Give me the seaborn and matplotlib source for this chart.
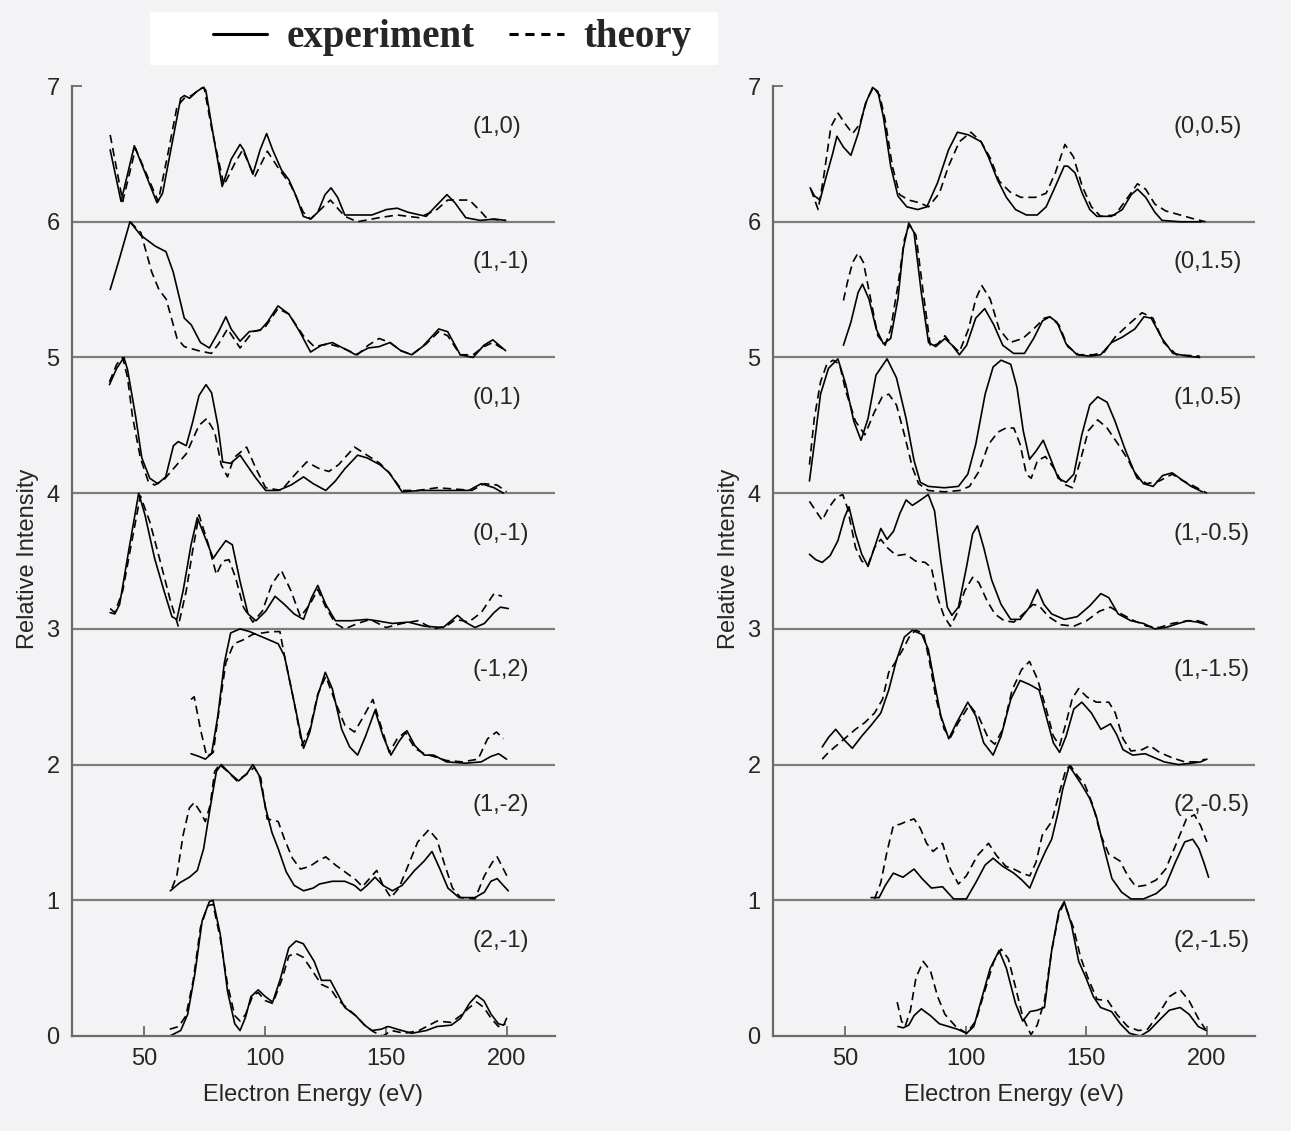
import numpy as np
import pandas as pd
import matplotlib
matplotlib.use("Agg")
import matplotlib.pyplot as plt
import seaborn as sns
from matplotlib.lines import Line2D
from matplotlib.patches import Rectangle

# ---- left panel beams, top to bottom
left_labels = ["(1,0)", "(1,-1)", "(0,1)", "(0,-1)", "(-1,2)", "(1,-2)", "(2,-1)"]
# ---- right panel beams, top to bottom
right_labels = ["(0,0.5)", "(0,1.5)", "(1,0.5)", "(1,-0.5)", "(1,-1.5)", "(2,-0.5)", "(2,-1.5)"]

# (1,0)
e_10_exp = [35.8, 40.3, 45.8, 55.2, 57.5, 62.0, 65.0, 66.5, 68.7, 71.7, 74.2, 75.4, 78.4, 82.2, 85.9, 89.6, 91.1, 94.9, 97.9, 100.6, 103.1, 106.8, 109.8, 112.8, 115.8, 118.8, 121.8, 124.8, 127.3, 130.0, 133.0, 138.2, 144.2, 150.2, 154.7, 159.2, 166.7, 170.4, 175.3, 178.6, 183.1, 189.1, 195.1, 199.6]
i_10_exp = [0.53, 0.15, 0.56, 0.14, 0.21, 0.63, 0.91, 0.93, 0.91, 0.96, 0.99, 0.97, 0.65, 0.26, 0.46, 0.57, 0.53, 0.35, 0.53, 0.65, 0.53, 0.38, 0.31, 0.19, 0.04, 0.02, 0.07, 0.20, 0.25, 0.18, 0.05, 0.05, 0.05, 0.09, 0.10, 0.07, 0.04, 0.11, 0.20, 0.14, 0.03, 0.01, 0.02, 0.01]
e_10_th = [35.8, 41.0, 46.3, 55.7, 59.7, 63.5, 66.5, 69.4, 73.2, 74.7, 77.7, 82.9, 87.4, 90.7, 95.6, 100.9, 105.3, 110.6, 115.8, 118.8, 127.0, 133.0, 138.2, 147.2, 154.7, 163.7, 171.1, 175.6, 184.6, 189.1, 192.1, 199.6]
i_10_th = [0.64, 0.15, 0.54, 0.15, 0.50, 0.85, 0.91, 0.93, 0.98, 0.99, 0.70, 0.27, 0.43, 0.53, 0.33, 0.52, 0.40, 0.27, 0.07, 0.02, 0.16, 0.04, 0.00, 0.03, 0.05, 0.03, 0.09, 0.16, 0.16, 0.08, 0.02, 0.01]

# (1,-1)
e_1m1_exp = [35.8, 39.5, 44.0, 48.5, 54.5, 58.9, 61.9, 66.5, 69.4, 73.2, 76.9, 80.7, 83.7, 85.9, 89.6, 93.4, 97.9, 100.9, 105.3, 109.8, 114.3, 118.8, 123.3, 127.8, 132.2, 137.5, 142.7, 147.2, 151.7, 156.2, 160.7, 165.2, 171.9, 175.6, 180.8, 186.1, 190.6, 194.3, 199.6]
i_1m1_exp = [0.50, 0.72, 1.00, 0.90, 0.82, 0.78, 0.63, 0.29, 0.24, 0.11, 0.07, 0.19, 0.30, 0.21, 0.12, 0.19, 0.20, 0.26, 0.38, 0.32, 0.19, 0.04, 0.09, 0.11, 0.07, 0.02, 0.07, 0.08, 0.11, 0.05, 0.02, 0.08, 0.21, 0.19, 0.02, 0.00, 0.09, 0.13, 0.05]
e_1m1_th = [44.0, 48.5, 53.0, 56.0, 59.0, 63.5, 66.5, 72.4, 77.7, 80.7, 84.4, 89.6, 94.9, 99.4, 105.3, 109.8, 115.8, 120.3, 126.3, 132.2, 138.2, 142.7, 147.2, 151.7, 156.2, 160.7, 166.7, 171.9, 175.6, 180.8, 186.1, 190.6, 194.3, 199.6]
i_1m1_th = [1.00, 0.92, 0.63, 0.50, 0.43, 0.14, 0.08, 0.05, 0.03, 0.10, 0.21, 0.07, 0.19, 0.21, 0.36, 0.32, 0.16, 0.08, 0.10, 0.07, 0.02, 0.09, 0.14, 0.11, 0.05, 0.02, 0.10, 0.19, 0.16, 0.02, 0.02, 0.08, 0.11, 0.05]

# (0,1)
e_01_exp = [35.5, 38.5, 41.5, 43.0, 46.3, 48.9, 52.2, 55.5, 58.8, 62.0, 64.0, 67.3, 69.9, 72.6, 75.5, 77.8, 80.4, 82.4, 85.7, 89.6, 92.3, 96.2, 100.2, 105.4, 110.7, 115.9, 119.9, 125.1, 129.1, 133.0, 138.3, 142.2, 147.5, 151.4, 156.7, 164.5, 172.4, 179.0, 184.3, 189.5, 194.8, 198.7]
i_01_exp = [0.80, 0.92, 1.00, 0.91, 0.57, 0.26, 0.11, 0.07, 0.12, 0.35, 0.38, 0.35, 0.52, 0.72, 0.80, 0.74, 0.50, 0.23, 0.22, 0.28, 0.21, 0.11, 0.02, 0.02, 0.06, 0.12, 0.07, 0.02, 0.09, 0.18, 0.28, 0.26, 0.21, 0.15, 0.01, 0.02, 0.02, 0.02, 0.02, 0.07, 0.04, 0.00]
e_01_th = [35.5, 38.5, 41.0, 43.0, 45.0, 48.3, 51.5, 54.2, 58.1, 62.0, 67.3, 72.6, 75.8, 79.1, 81.8, 84.4, 87.0, 92.3, 96.2, 100.2, 106.7, 112.0, 117.2, 122.5, 126.4, 130.4, 137.0, 142.2, 147.5, 151.4, 156.7, 163.2, 171.1, 179.0, 185.6, 190.8, 196.1, 200.0]
i_01_th = [0.82, 0.95, 1.00, 0.85, 0.57, 0.26, 0.09, 0.06, 0.10, 0.18, 0.29, 0.50, 0.55, 0.45, 0.21, 0.12, 0.26, 0.34, 0.18, 0.04, 0.02, 0.13, 0.23, 0.18, 0.16, 0.21, 0.34, 0.28, 0.22, 0.15, 0.02, 0.02, 0.04, 0.03, 0.02, 0.07, 0.06, 0.01]

# (0,-1)
e_0m1_exp = [35.8, 37.7, 39.7, 43.7, 47.6, 50.2, 54.2, 58.1, 61.4, 63.4, 66.0, 69.3, 71.9, 75.2, 78.5, 80.4, 83.7, 86.4, 89.6, 92.9, 96.2, 100.2, 104.1, 108.0, 112.0, 115.9, 119.2, 121.8, 125.1, 129.1, 135.6, 142.2, 146.2, 152.7, 159.3, 165.9, 173.7, 179.7, 182.9, 186.9, 190.8, 194.8, 197.4, 200.7]
i_0m1_exp = [0.12, 0.11, 0.18, 0.60, 1.00, 0.84, 0.52, 0.28, 0.09, 0.07, 0.28, 0.62, 0.82, 0.67, 0.52, 0.57, 0.65, 0.62, 0.35, 0.11, 0.06, 0.13, 0.24, 0.18, 0.11, 0.07, 0.23, 0.32, 0.18, 0.06, 0.06, 0.07, 0.06, 0.04, 0.05, 0.02, 0.01, 0.10, 0.05, 0.01, 0.04, 0.12, 0.16, 0.15]
e_0m1_th = [35.8, 37.7, 41.0, 44.5, 48.3, 52.2, 56.8, 60.7, 64.0, 67.3, 69.9, 72.6, 76.5, 79.8, 82.4, 85.0, 87.7, 91.0, 94.9, 98.8, 102.8, 106.7, 110.7, 114.6, 118.5, 121.8, 125.1, 129.1, 133.0, 138.3, 143.5, 150.1, 156.7, 163.2, 169.8, 175.0, 179.0, 184.3, 189.5, 194.8, 198.1]
i_0m1_th = [0.15, 0.12, 0.28, 0.62, 0.98, 0.79, 0.48, 0.21, 0.02, 0.28, 0.57, 0.84, 0.62, 0.40, 0.50, 0.51, 0.38, 0.16, 0.05, 0.13, 0.33, 0.43, 0.28, 0.09, 0.18, 0.29, 0.16, 0.04, 0.00, 0.04, 0.07, 0.01, 0.04, 0.06, 0.00, 0.02, 0.07, 0.05, 0.12, 0.26, 0.24]

# (-1,2)
e_m12_exp = [69.3, 72.6, 75.2, 77.8, 80.4, 83.1, 85.7, 89.6, 93.6, 97.5, 101.5, 105.4, 108.0, 112.0, 115.9, 118.5, 121.8, 124.9, 127.8, 131.7, 135.0, 138.3, 141.6, 145.5, 148.8, 152.1, 155.4, 158.7, 162.0, 165.9, 169.8, 175.1, 182.9, 189.5, 193.5, 196.7, 200.0]
i_m12_exp = [0.08, 0.06, 0.04, 0.08, 0.36, 0.75, 0.97, 1.00, 0.98, 0.95, 0.92, 0.89, 0.80, 0.46, 0.12, 0.24, 0.51, 0.68, 0.56, 0.26, 0.13, 0.07, 0.21, 0.40, 0.21, 0.07, 0.17, 0.25, 0.14, 0.07, 0.07, 0.02, 0.01, 0.02, 0.06, 0.08, 0.04]
e_m12_th = [69.3, 70.6, 73.2, 75.8, 78.5, 81.1, 83.7, 87.0, 91.0, 94.9, 98.8, 102.8, 106.1, 108.0, 112.0, 115.3, 118.5, 121.8, 125.1, 129.1, 133.0, 137.0, 140.9, 144.6, 147.5, 151.4, 154.7, 158.0, 162.0, 165.9, 169.8, 175.1, 181.6, 188.2, 192.1, 195.8, 198.7]
i_m12_th = [0.48, 0.50, 0.26, 0.06, 0.09, 0.43, 0.75, 0.89, 0.92, 0.96, 0.97, 0.98, 0.98, 0.80, 0.46, 0.14, 0.26, 0.52, 0.65, 0.46, 0.29, 0.24, 0.36, 0.48, 0.31, 0.09, 0.19, 0.24, 0.12, 0.08, 0.06, 0.03, 0.02, 0.04, 0.19, 0.24, 0.19]

# (1,-2)
e_1m2_exp = [60.7, 64.7, 68.6, 71.9, 74.5, 77.2, 79.8, 81.8, 85.7, 89.0, 92.3, 94.9, 97.5, 100.2, 102.8, 105.4, 108.7, 112.0, 115.9, 119.9, 122.5, 127.8, 133.0, 137.0, 139.6, 142.2, 145.5, 148.8, 152.7, 156.7, 161.9, 165.9, 169.1, 172.4, 175.7, 180.3, 186.9, 190.8, 193.5, 196.1, 198.1, 200.7]
i_1m2_exp = [0.07, 0.13, 0.17, 0.22, 0.38, 0.68, 0.95, 1.00, 0.93, 0.88, 0.93, 1.00, 0.92, 0.68, 0.50, 0.38, 0.21, 0.11, 0.07, 0.09, 0.12, 0.14, 0.14, 0.11, 0.07, 0.11, 0.17, 0.11, 0.07, 0.11, 0.22, 0.29, 0.36, 0.23, 0.09, 0.02, 0.02, 0.06, 0.14, 0.16, 0.12, 0.07]
e_1m2_th = [61.4, 63.4, 66.0, 68.6, 70.6, 73.2, 75.2, 77.2, 79.1, 81.1, 84.4, 88.3, 92.3, 95.5, 98.2, 100.8, 103.4, 105.4, 108.0, 111.3, 114.6, 118.5, 121.8, 125.1, 129.1, 133.0, 137.6, 140.3, 144.2, 146.2, 148.8, 152.1, 155.4, 159.3, 163.2, 167.8, 171.1, 174.4, 177.6, 180.9, 186.9, 190.8, 194.1, 196.1, 198.7, 200.7]
i_1m2_th = [0.09, 0.18, 0.48, 0.68, 0.72, 0.65, 0.58, 0.70, 0.95, 1.00, 0.95, 0.88, 0.93, 0.98, 0.90, 0.60, 0.59, 0.58, 0.45, 0.31, 0.23, 0.25, 0.29, 0.32, 0.26, 0.21, 0.15, 0.10, 0.18, 0.22, 0.11, 0.02, 0.09, 0.26, 0.43, 0.52, 0.45, 0.26, 0.09, 0.02, 0.01, 0.18, 0.28, 0.32, 0.23, 0.16]

# (2,-1)
e_2m1_exp = [60.5, 65.0, 67.9, 70.9, 73.9, 76.9, 78.4, 81.4, 84.4, 87.4, 89.6, 91.9, 94.1, 97.1, 100.1, 103.1, 106.1, 109.8, 112.8, 115.8, 120.3, 123.3, 127.0, 130.0, 133.0, 137.5, 141.2, 144.2, 148.0, 151.0, 154.7, 160.7, 166.7, 171.2, 177.1, 180.9, 184.6, 187.6, 190.6, 193.6, 196.6, 198.8, 200.0]
i_2m1_exp = [0.00, 0.04, 0.16, 0.46, 0.85, 0.99, 1.00, 0.75, 0.33, 0.09, 0.04, 0.14, 0.29, 0.34, 0.29, 0.25, 0.41, 0.65, 0.70, 0.68, 0.55, 0.41, 0.41, 0.31, 0.21, 0.15, 0.08, 0.04, 0.05, 0.07, 0.05, 0.02, 0.04, 0.07, 0.08, 0.13, 0.24, 0.30, 0.26, 0.16, 0.09, 0.08, 0.13]
e_2m1_th = [60.5, 64.2, 67.2, 70.2, 73.2, 76.2, 78.4, 81.4, 84.4, 87.4, 89.6, 91.9, 94.9, 97.1, 100.1, 103.1, 106.8, 109.8, 112.5, 115.8, 120.3, 123.3, 127.0, 130.0, 133.0, 137.5, 141.2, 145.0, 148.7, 152.4, 157.7, 163.7, 171.2, 177.1, 180.9, 184.6, 187.6, 190.6, 193.6, 196.6, 199.6]
i_2m1_th = [0.05, 0.07, 0.15, 0.41, 0.80, 0.96, 0.97, 0.72, 0.38, 0.15, 0.11, 0.16, 0.30, 0.32, 0.26, 0.24, 0.41, 0.59, 0.61, 0.58, 0.46, 0.38, 0.35, 0.27, 0.22, 0.15, 0.08, 0.03, 0.00, 0.04, 0.02, 0.04, 0.11, 0.10, 0.15, 0.21, 0.25, 0.21, 0.13, 0.07, 0.09]

# (0,0.5)
e_0h_exp = [35.4, 37.2, 39.5, 41.7, 44.7, 46.5, 49.2, 52.3, 55.3, 58.3, 61.3, 63.5, 65.8, 68.8, 71.8, 75.5, 80.0, 83.8, 88.3, 92.8, 96.5, 101.1, 106.3, 109.3, 113.1, 116.8, 120.6, 125.1, 129.6, 133.3, 137.1, 140.8, 142.3, 145.3, 148.3, 151.4, 154.4, 160.4, 164.9, 168.6, 171.2, 174.6, 178.4, 181.4, 188.9, 197.7]
i_0h_exp = [0.25, 0.19, 0.16, 0.31, 0.50, 0.63, 0.55, 0.49, 0.65, 0.87, 0.99, 0.96, 0.77, 0.41, 0.19, 0.11, 0.09, 0.11, 0.29, 0.53, 0.66, 0.64, 0.59, 0.48, 0.31, 0.18, 0.09, 0.05, 0.05, 0.11, 0.26, 0.41, 0.41, 0.36, 0.21, 0.09, 0.04, 0.04, 0.09, 0.20, 0.24, 0.18, 0.07, 0.01, 0.00, 0.00]
e_0h_th = [35.7, 38.7, 41.0, 44.0, 47.0, 50.0, 53.0, 56.0, 59.0, 61.6, 64.3, 66.5, 69.5, 72.5, 76.3, 80.8, 84.5, 89.0, 92.8, 97.3, 102.1, 106.3, 110.1, 113.8, 118.3, 122.8, 128.8, 133.3, 137.1, 141.1, 144.6, 148.3, 152.1, 155.9, 161.9, 166.4, 171.2, 174.6, 178.4, 182.9, 188.9, 194.9, 199.4]
i_0h_th = [0.24, 0.09, 0.33, 0.70, 0.80, 0.72, 0.65, 0.72, 0.90, 0.99, 0.93, 0.75, 0.41, 0.20, 0.16, 0.14, 0.11, 0.21, 0.41, 0.59, 0.66, 0.59, 0.47, 0.30, 0.22, 0.18, 0.18, 0.21, 0.36, 0.57, 0.48, 0.26, 0.11, 0.04, 0.05, 0.16, 0.28, 0.24, 0.13, 0.08, 0.05, 0.02, 0.00]

# (0,1.5)
e_01h_exp = [49.2, 52.3, 55.3, 57.1, 59.8, 62.8, 65.8, 68.8, 71.8, 74.0, 76.3, 78.5, 81.5, 84.5, 87.5, 91.3, 94.3, 97.3, 100.3, 104.1, 107.8, 111.6, 115.3, 119.8, 124.3, 128.1, 131.8, 134.8, 137.8, 141.6, 146.1, 151.4, 155.9, 160.4, 164.9, 170.1, 173.9, 176.9, 181.4, 185.9, 191.9, 197.0]
i_01h_exp = [0.09, 0.26, 0.48, 0.54, 0.43, 0.21, 0.10, 0.14, 0.43, 0.80, 0.99, 0.92, 0.48, 0.11, 0.08, 0.14, 0.09, 0.02, 0.09, 0.29, 0.36, 0.24, 0.09, 0.03, 0.03, 0.14, 0.27, 0.30, 0.26, 0.10, 0.02, 0.01, 0.02, 0.11, 0.15, 0.21, 0.30, 0.29, 0.14, 0.03, 0.01, 0.00]
e_01h_th = [49.2, 50.8, 53.0, 55.3, 57.5, 60.5, 63.5, 66.5, 68.8, 71.8, 74.5, 76.6, 79.3, 82.3, 85.3, 88.3, 91.3, 94.3, 97.3, 101.1, 104.1, 106.6, 110.1, 113.8, 118.3, 123.6, 128.1, 132.6, 134.8, 138.6, 142.3, 146.8, 152.9, 157.4, 161.9, 167.9, 173.1, 177.6, 182.1, 187.4, 197.0]
i_01h_th = [0.42, 0.55, 0.70, 0.77, 0.70, 0.43, 0.16, 0.09, 0.21, 0.53, 0.87, 0.98, 0.90, 0.48, 0.08, 0.10, 0.16, 0.09, 0.04, 0.21, 0.43, 0.53, 0.43, 0.21, 0.11, 0.14, 0.21, 0.29, 0.30, 0.24, 0.08, 0.02, 0.02, 0.04, 0.15, 0.25, 0.33, 0.29, 0.11, 0.02, 0.01]

# (1,0.5)
e_1h_exp = [35.1, 37.1, 39.7, 43.0, 46.9, 50.2, 53.5, 56.5, 59.4, 62.7, 67.3, 71.2, 75.2, 78.5, 81.1, 84.4, 91.0, 96.9, 100.8, 104.1, 108.0, 111.3, 114.6, 118.6, 121.2, 123.8, 126.4, 129.1, 132.1, 135.0, 138.3, 141.6, 144.8, 148.1, 151.4, 154.7, 158.6, 161.9, 165.9, 169.8, 173.7, 177.7, 181.6, 185.6, 189.5, 193.5, 198.1]
i_1h_exp = [0.09, 0.36, 0.73, 0.92, 0.99, 0.80, 0.53, 0.39, 0.55, 0.87, 0.99, 0.85, 0.55, 0.24, 0.08, 0.05, 0.04, 0.05, 0.14, 0.36, 0.73, 0.93, 0.98, 0.95, 0.78, 0.46, 0.25, 0.31, 0.39, 0.26, 0.11, 0.08, 0.14, 0.43, 0.65, 0.71, 0.67, 0.53, 0.33, 0.16, 0.07, 0.05, 0.13, 0.15, 0.10, 0.05, 0.01]
e_1h_th = [35.1, 37.1, 39.7, 42.3, 44.9, 47.6, 50.2, 54.2, 58.1, 62.1, 65.3, 68.0, 71.2, 74.5, 77.8, 80.4, 84.4, 91.0, 97.5, 101.5, 105.4, 109.4, 113.3, 116.6, 119.9, 122.5, 125.1, 127.1, 129.7, 133.0, 136.3, 140.2, 144.2, 147.5, 150.8, 154.7, 158.6, 163.2, 167.2, 171.1, 175.1, 180.3, 185.6, 190.2, 194.8, 200.0]
i_1h_th = [0.21, 0.55, 0.82, 0.95, 0.98, 0.95, 0.75, 0.53, 0.43, 0.60, 0.71, 0.73, 0.65, 0.43, 0.19, 0.07, 0.02, 0.01, 0.02, 0.05, 0.16, 0.36, 0.45, 0.48, 0.48, 0.36, 0.14, 0.11, 0.24, 0.27, 0.19, 0.07, 0.04, 0.24, 0.46, 0.54, 0.48, 0.36, 0.25, 0.11, 0.07, 0.09, 0.14, 0.09, 0.05, 0.00]

# (1,-0.5)
e_1mh_exp = [35.1, 37.7, 40.4, 43.7, 46.9, 49.6, 51.5, 54.2, 56.8, 59.4, 62.1, 64.7, 67.3, 70.0, 72.6, 75.2, 77.8, 80.4, 84.4, 87.0, 89.6, 92.3, 94.2, 96.9, 100.2, 102.8, 104.8, 107.4, 110.7, 114.6, 118.6, 122.5, 126.4, 129.7, 132.4, 135.6, 140.9, 146.2, 151.4, 156.0, 159.3, 163.2, 168.5, 173.7, 178.3, 182.9, 188.2, 192.1, 196.1, 200.0]
i_1mh_exp = [0.55, 0.51, 0.49, 0.54, 0.65, 0.82, 0.90, 0.70, 0.55, 0.46, 0.60, 0.74, 0.66, 0.72, 0.85, 0.95, 0.91, 0.94, 0.99, 0.87, 0.50, 0.16, 0.10, 0.16, 0.45, 0.70, 0.76, 0.60, 0.36, 0.18, 0.07, 0.07, 0.16, 0.29, 0.18, 0.11, 0.07, 0.09, 0.17, 0.26, 0.23, 0.11, 0.06, 0.04, 0.00, 0.01, 0.04, 0.06, 0.05, 0.03]
e_1mh_th = [35.1, 37.7, 40.4, 43.0, 46.3, 48.9, 50.9, 54.2, 56.8, 59.4, 62.1, 64.7, 67.3, 71.2, 75.2, 79.1, 83.1, 85.7, 88.3, 91.0, 93.6, 96.2, 99.5, 102.8, 105.4, 108.7, 112.0, 115.9, 119.9, 123.8, 127.8, 130.4, 134.3, 139.6, 144.8, 150.1, 155.4, 160.0, 164.5, 169.8, 175.1, 180.3, 185.6, 192.1, 196.1, 200.0]
i_1mh_th = [0.94, 0.87, 0.80, 0.89, 0.97, 0.99, 0.89, 0.60, 0.50, 0.47, 0.60, 0.66, 0.60, 0.54, 0.55, 0.50, 0.49, 0.45, 0.23, 0.09, 0.02, 0.11, 0.28, 0.38, 0.34, 0.21, 0.11, 0.06, 0.05, 0.11, 0.18, 0.17, 0.09, 0.03, 0.02, 0.06, 0.13, 0.16, 0.11, 0.06, 0.02, 0.01, 0.04, 0.06, 0.06, 0.04]

# (1,-1.5)
e_11h_exp = [40.4, 43.0, 46.0, 49.6, 52.9, 56.8, 60.7, 64.7, 68.0, 71.2, 74.5, 77.8, 81.7, 84.4, 87.0, 89.6, 92.9, 96.2, 100.8, 104.1, 107.4, 111.3, 114.6, 118.6, 122.5, 126.4, 130.4, 133.7, 136.3, 138.9, 141.6, 144.8, 148.1, 152.1, 156.0, 160.0, 162.6, 165.2, 169.2, 174.4, 178.3, 182.3, 188.2, 193.5, 197.4, 200.0]
i_11h_exp = [0.13, 0.20, 0.26, 0.18, 0.12, 0.21, 0.29, 0.38, 0.55, 0.77, 0.94, 0.99, 0.96, 0.85, 0.60, 0.36, 0.19, 0.31, 0.46, 0.36, 0.16, 0.07, 0.21, 0.48, 0.62, 0.59, 0.55, 0.33, 0.16, 0.09, 0.21, 0.41, 0.46, 0.38, 0.26, 0.30, 0.22, 0.11, 0.07, 0.08, 0.05, 0.02, 0.00, 0.01, 0.02, 0.04]
e_11h_th = [40.4, 43.0, 46.3, 49.6, 54.2, 58.1, 62.1, 65.4, 68.0, 70.6, 73.9, 76.5, 79.1, 82.4, 85.0, 87.7, 91.0, 93.6, 96.9, 101.5, 105.4, 109.4, 112.0, 115.3, 119.2, 123.1, 126.4, 129.7, 133.0, 136.3, 138.9, 141.6, 144.2, 146.8, 150.1, 154.1, 159.3, 162.0, 165.2, 168.5, 173.1, 176.4, 180.3, 185.6, 190.8, 196.1, 199.4]
i_11h_th = [0.04, 0.09, 0.14, 0.19, 0.26, 0.31, 0.38, 0.48, 0.68, 0.75, 0.85, 0.94, 0.99, 0.97, 0.75, 0.48, 0.26, 0.20, 0.31, 0.44, 0.35, 0.19, 0.15, 0.26, 0.55, 0.70, 0.76, 0.63, 0.43, 0.21, 0.14, 0.31, 0.49, 0.56, 0.50, 0.46, 0.46, 0.38, 0.19, 0.10, 0.11, 0.14, 0.09, 0.05, 0.02, 0.02, 0.04]

# (2,-0.5)
e_2mh_exp = [60.7, 64.0, 66.6, 69.9, 73.9, 78.5, 81.8, 85.7, 90.3, 94.9, 100.2, 104.1, 108.0, 111.3, 115.3, 119.9, 123.2, 126.5, 129.7, 133.0, 135.6, 138.3, 140.2, 142.9, 145.5, 148.1, 151.4, 154.1, 157.4, 160.6, 164.6, 168.5, 173.7, 179.0, 182.9, 186.9, 190.8, 194.1, 196.7, 198.7, 200.7]
i_2mh_exp = [0.02, 0.02, 0.11, 0.20, 0.17, 0.23, 0.16, 0.09, 0.10, 0.01, 0.01, 0.13, 0.26, 0.31, 0.25, 0.20, 0.15, 0.09, 0.23, 0.36, 0.45, 0.65, 0.82, 0.99, 0.92, 0.85, 0.75, 0.62, 0.38, 0.16, 0.06, 0.01, 0.01, 0.05, 0.11, 0.28, 0.43, 0.45, 0.38, 0.28, 0.17]
e_2mh_th = [62.1, 64.7, 67.3, 69.9, 72.6, 75.2, 78.5, 81.1, 83.7, 86.4, 90.3, 93.6, 96.9, 100.2, 104.8, 109.4, 112.7, 116.6, 119.9, 123.2, 126.5, 129.1, 131.7, 135.6, 138.9, 141.6, 143.5, 146.2, 149.4, 152.7, 156.0, 159.3, 163.9, 167.2, 170.5, 174.4, 179.0, 182.9, 186.9, 191.5, 194.8, 197.4, 200.0]
i_2mh_th = [0.01, 0.13, 0.36, 0.55, 0.56, 0.58, 0.60, 0.53, 0.42, 0.36, 0.42, 0.23, 0.12, 0.18, 0.33, 0.42, 0.33, 0.25, 0.23, 0.20, 0.18, 0.28, 0.48, 0.58, 0.80, 0.97, 0.99, 0.92, 0.85, 0.70, 0.48, 0.34, 0.29, 0.18, 0.10, 0.11, 0.15, 0.23, 0.40, 0.60, 0.63, 0.55, 0.43]

# (2,-1.5)
e_21h_exp = [71.8, 74.0, 76.3, 78.5, 81.5, 85.3, 89.0, 92.8, 96.5, 100.3, 103.3, 106.3, 110.1, 113.8, 116.8, 120.6, 123.6, 126.6, 129.6, 132.6, 135.6, 138.6, 140.8, 143.8, 146.8, 149.8, 152.9, 155.9, 160.4, 164.1, 167.9, 172.4, 176.1, 179.9, 184.4, 188.9, 192.6, 196.4, 199.8]
i_21h_exp = [0.07, 0.06, 0.08, 0.15, 0.20, 0.15, 0.09, 0.07, 0.05, 0.02, 0.07, 0.26, 0.50, 0.63, 0.50, 0.24, 0.11, 0.18, 0.19, 0.21, 0.63, 0.92, 0.99, 0.82, 0.55, 0.43, 0.29, 0.21, 0.18, 0.09, 0.02, 0.00, 0.04, 0.11, 0.19, 0.21, 0.16, 0.07, 0.04]
e_21h_th = [71.5, 73.3, 74.8, 77.0, 79.3, 82.3, 85.3, 88.3, 91.3, 95.8, 100.3, 104.1, 107.8, 111.6, 114.6, 117.6, 120.6, 123.6, 127.0, 129.6, 132.6, 135.6, 138.6, 140.8, 144.6, 147.6, 150.6, 154.4, 158.9, 162.6, 167.1, 171.6, 175.4, 179.9, 184.4, 188.9, 192.6, 196.4, 199.4]
i_21h_th = [0.25, 0.11, 0.07, 0.19, 0.43, 0.55, 0.48, 0.29, 0.16, 0.07, 0.02, 0.11, 0.33, 0.55, 0.64, 0.57, 0.36, 0.14, 0.01, 0.08, 0.26, 0.63, 0.90, 0.98, 0.80, 0.58, 0.43, 0.27, 0.26, 0.16, 0.07, 0.04, 0.05, 0.16, 0.29, 0.34, 0.26, 0.13, 0.05]

left_curves = [
    (e_10_exp, i_10_exp, e_10_th, i_10_th),
    (e_1m1_exp, i_1m1_exp, e_1m1_th, i_1m1_th),
    (e_01_exp, i_01_exp, e_01_th, i_01_th),
    (e_0m1_exp, i_0m1_exp, e_0m1_th, i_0m1_th),
    (e_m12_exp, i_m12_exp, e_m12_th, i_m12_th),
    (e_1m2_exp, i_1m2_exp, e_1m2_th, i_1m2_th),
    (e_2m1_exp, i_2m1_exp, e_2m1_th, i_2m1_th),
]
right_curves = [
    (e_0h_exp, i_0h_exp, e_0h_th, i_0h_th),
    (e_01h_exp, i_01h_exp, e_01h_th, i_01h_th),
    (e_1h_exp, i_1h_exp, e_1h_th, i_1h_th),
    (e_1mh_exp, i_1mh_exp, e_1mh_th, i_1mh_th),
    (e_11h_exp, i_11h_exp, e_11h_th, i_11h_th),
    (e_2mh_exp, i_2mh_exp, e_2mh_th, i_2mh_th),
    (e_21h_exp, i_21h_exp, e_21h_th, i_21h_th),
]

bg = "#f3f3f5"
axis_grey = "#6a6a6a"

sns.set_theme(style="ticks")
plt.rcParams["font.family"] = ["Liberation Sans", "DejaVu Sans"]

fig = plt.figure(figsize=(12.91, 11.31), dpi=100, facecolor=bg)
ax_l = fig.add_axes([0.0558, 0.084, 0.374, 0.8435])
ax_r = fig.add_axes([0.5988, 0.084, 0.3734, 0.8435])


def draw_panel(ax, labels, curves):
    parts = []
    n = len(labels)
    for k, (lab, (ex, ix, et, it)) in enumerate(zip(labels, curves)):
        off = n - 1 - k
        parts.append(pd.DataFrame({"energy": ex, "level": np.array(ix) + off,
                                   "kind": "experiment", "curve": lab}))
        parts.append(pd.DataFrame({"energy": et, "level": np.array(it) + off,
                                   "kind": "theory", "curve": lab}))
        ax.text(186, off + 0.7, lab, fontsize=17, ha="left", va="center")
    df = pd.concat(parts, ignore_index=True)
    sns.lineplot(data=df, x="energy", y="level", style="kind", units="curve",
                 estimator=None, sort=False, color="black", linewidth=1.2,
                 dashes={"experiment": "", "theory": (5, 3)}, legend=False, ax=ax)
    for lvl in range(1, n):
        ax.axhline(lvl, color="#7d7d7d", lw=1.6, zorder=1)

    ax.set_facecolor(bg)
    ax.set_xlim(20, 220)
    ax.set_ylim(0, 7.03)
    ax.set_xticks([50, 100, 150, 200])
    ax.set_yticks(range(8))
    ax.spines["top"].set_visible(False)
    ax.spines["right"].set_visible(False)
    ax.spines["left"].set_bounds(0, 7)
    for s in ("left", "bottom"):
        ax.spines[s].set_color(axis_grey)
        ax.spines[s].set_linewidth(1.6)
    ax.tick_params(axis="both", direction="in", length=7, width=1.3,
                   color=axis_grey, labelsize=17, pad=9)
    ax.set_xlabel("Electron Energy (eV)", fontsize=17, labelpad=10)
    ax.set_ylabel("Relative Intensity", fontsize=17, labelpad=5)


draw_panel(ax_l, left_labels, left_curves)
draw_panel(ax_r, right_labels, right_curves)

# white box behind the key, wider on the left as in the original
fig.patches.append(Rectangle((150 / 1291, 1 - 65 / 1131), 568 / 1291, 53 / 1131,
                             transform=fig.transFigure, facecolor="white",
                             edgecolor="none", zorder=0))

handles = [Line2D([], [], color="black", lw=2.2, ls="-"),
           Line2D([], [], color="black", lw=2.2, ls=(0, (3, 2.2)))]
leg = fig.legend(handles, ["experiment", "theory"], ncol=2, loc="center",
                 bbox_to_anchor=(452 / 1291, 1 - 38 / 1131), frameon=False,
                 prop={"family": "Liberation Serif", "weight": "bold", "size": 28},
                 handlelength=1.4, columnspacing=0.9, handletextpad=0.5)

fig.savefig("out.png", dpi=100, facecolor=bg)
